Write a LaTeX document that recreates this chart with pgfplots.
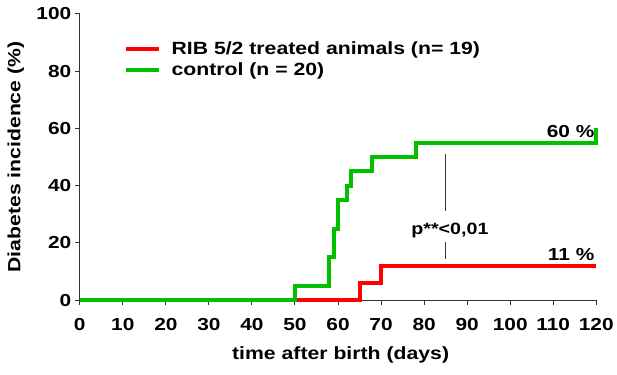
\documentclass[border=0pt]{standalone}
\usepackage{fontspec}
\setmainfont[FakeStretch=1.2]{Liberation Sans}
\usepackage{pgfplots}
\pgfplotsset{compat=1.18}
\definecolor{cred}{RGB}{255,0,0}
\definecolor{cgreen}{RGB}{0,192,0}
\begin{document}
\begin{tikzpicture}
\begin{axis}[
  scale only axis, width=518bp, height=287bp,
  xmin=0, xmax=120, ymin=0, ymax=100,
  axis lines=left, axis line style={-, line width=1bp, black!80},
  xtick={0,10,...,120}, ytick={0,20,...,100},
  tick align=outside, tick style={line width=1bp, black!80},
  major tick length=5bp,
  /pgf/number format/assume math mode=true,
  tick label style={font=\fontsize{17.5}{20}\selectfont\bfseries},
  xticklabel style={yshift=-10bp},
  xlabel={time after birth (days)},
  ylabel={Diabetes incidence (\%)},
  label style={font=\fontsize{17.8}{20}\selectfont\bfseries},
  xlabel style={at={(axis description cs:0.505,-0.19)}, anchor=center},
  ylabel style={at={(axis description cs:-0.124,0.5)}, anchor=center},
  clip=false,
  legend cell align=left,
  legend style={draw=none, fill=none, font=\fontsize{17.8}{20}\selectfont\bfseries,
    at={(axis description cs:0.079,0.918)}, anchor=north west,
    row sep=3bp, column sep=9bp},
  legend image code/.code={\draw[#1, line width=4bp] (0bp,0bp) -- (33bp,0bp);},
]
\addplot[cred, line width=4bp, const plot, line join=miter] coordinates {
 (0,0) (65,6) (70,12) (120,12)};
\addlegendentry{RIB 5/2 treated animals (n= 19)}
\addplot[cgreen, line width=4bp, const plot, line join=miter] coordinates {
 (0,0) (50,5) (58,15) (59,25) (60,35) (62,40) (63,45) (68,50) (78,55) (120,60)};
\addlegendentry{control (n = 20)}
\draw[line width=1bp, black!80] (axis cs:85,50.9) -- (axis cs:85,31.1);
\draw[line width=1bp, black!80] (axis cs:85,20.3) -- (axis cs:85,14.5);
\node[font=\fontsize{16.5}{20}\selectfont\bfseries] at (axis cs:86,24.5) {p**<0,01};
\node[font=\fontsize{17.5}{20}\selectfont\bfseries, anchor=base east, inner sep=0pt] at (axis cs:119.6,56.8) {60 \%};
\node[font=\fontsize{17.5}{20}\selectfont\bfseries, anchor=base east, inner sep=0pt] at (axis cs:119.6,13.7) {11 \%};
\end{axis}
\path (-80bp,-75bp) rectangle (537bp,301bp);
\end{tikzpicture}
\end{document}
